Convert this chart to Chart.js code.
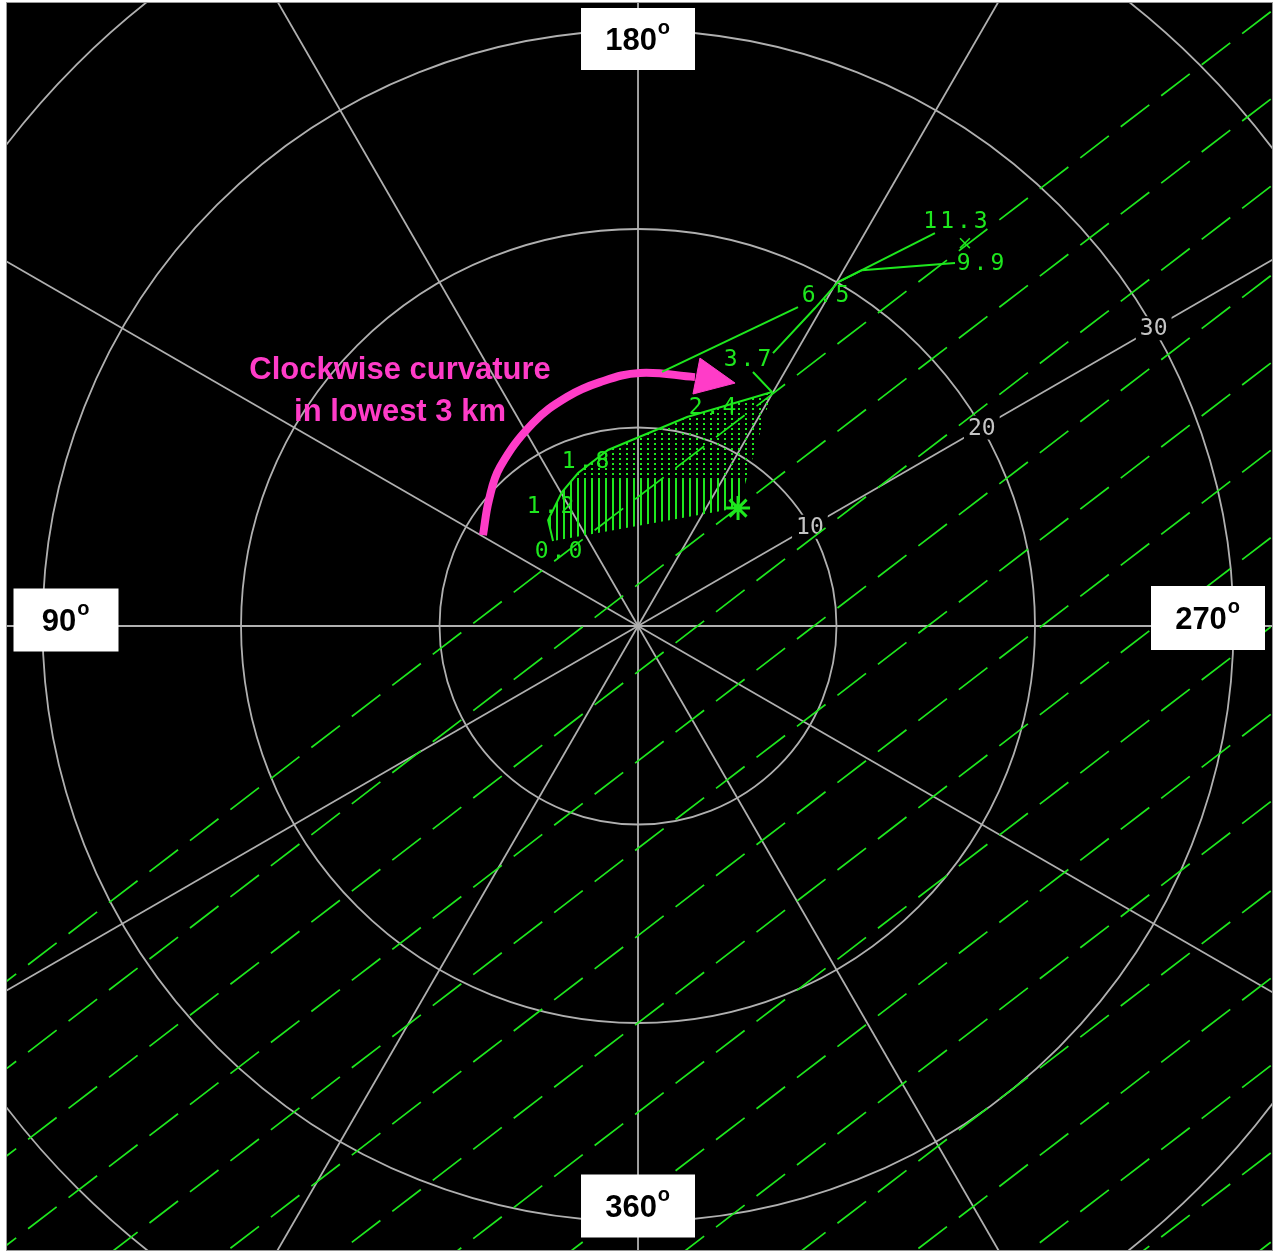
<!DOCTYPE html>
<html>
<head>
<meta charset="utf-8">
<script src="https://cdn.jsdelivr.net/npm/chart.js@4.4.1/dist/chart.umd.min.js"></script>
<style>
  html, body { margin: 0; padding: 0; background: #fff; }
  canvas { display: block; }
</style>
</head>
<body>
<canvas id="hodo" width="1279" height="1253"></canvas>
<script>
// knots, u to the right, v up (wind from 180 plots at the top)
const ringSpeeds = [10, 20, 30, 40];
const ringLabels = ["10", "20", "30"];
const labelAngle = 30;
const spokeAngles = [0, 30, 60, 90, 120, 150];

// 0-3 km part of the hodograph
const lowU = [-4.28, -4.53, -3.83, -3.02, -1.51, 2.47, 5.39, 6.75, 5.79];
const lowV = [4.28, 5.34, 6.75, 7.71, 8.87, 10.53, 11.39, 11.79, 12.80];
// upper part
const upU = [6.80, 8.92, 10.08, 11.28, 15.97];
const upV = [13.75, 16.02, 17.33, 17.93, 18.29];
const topU = [10.08, 14.96];
const topV = [17.33, 19.80];
const sideU = [1.21, 8.06];
const sideV = [12.80, 16.07];

const stormMotion = { u: 5.04, v: 5.94 };
const topMark = { u: 16.47, v: 19.29 };

const heightLabels = ["0.0", "1.2", "1.8", "2.4", "3.7", "6.5", "9.9", "11.3"];
const heightLabelU = [-4.03, -4.43, -2.67, 3.73, 5.49, 9.42, 17.23, 15.97];
const heightLabelV = [3.73, 5.99, 8.26, 10.98, 13.40, 16.62, 18.24, 20.35];

// parallel dashed lines: v where each crosses u = 0, common slope
const shearSlope = 0.767;
const shearOffsets = [6.5, 2.1, -2.3, -6.8, -11.2, -15.6, -20.0, -24.5, -28.9, -33.3, -37.8, -42.2, -46.6, -51.0, -55.5];

// pink annotation
const arcU = [-7.81, -7.51, -6.95, -5.29, -3.58, -1.91, 0.10, 2.87];
const arcV = [4.58, 6.35, 8.01, 10.23, 11.54, 12.29, 12.75, 12.54];
const headU = [3.12, 4.89, 2.77];
const headV = [13.50, 12.24, 11.69];
const noteLines = ["Clockwise curvature", "in lowest 3 km"];
const noteU = -11.99;
const noteV = [12.90, 10.78];

const dirLabels = ["180", "90", "270", "360"];

const GREEN = "#1ee81e";
const GRAY = "#b0b0b0";
const PINK = "#ff3cc8";
const hatchSplitV = 7.46; // hatching turns dotted above this
const HATCH_INDEX = shearOffsets.length;

const pts = (us, vs) => us.map((u, i) => ({ x: u, y: vs[i] }));

function hatchPattern(chart) {
    const split = Math.round(chart.scales.y.getPixelForValue(hatchSplitV));
    const c = document.createElement("canvas");
    c.width = 7;
    c.height = chart.height;
    const g = c.getContext("2d");
    g.fillStyle = GREEN;
    for (let yy = split % 5; yy < split; yy += 5) g.fillRect(3, yy, 2, 2);
    g.fillRect(3, split, 2, c.height - split);
    return chart.ctx.createPattern(c, "repeat");
}

const hodoGrid = {
    id: "hodoGrid",
    beforeDraw(chart) {
        const { ctx, chartArea: a } = chart;
        ctx.save();
        ctx.fillStyle = "#fff";
        ctx.fillRect(0, 0, chart.width, chart.height);
        ctx.fillStyle = "#000";
        ctx.fillRect(a.left, a.top, a.right - a.left, a.bottom - a.top);
        ctx.strokeStyle = "#999";
        ctx.lineWidth = 1;
        ctx.strokeRect(a.left - 0.5, a.top - 0.5, a.right - a.left + 1, a.bottom - a.top + 1);
        ctx.restore();
    },
    beforeDatasetsDraw(chart) {
        const { ctx, chartArea: a, scales: { x, y } } = chart;
        const cx = x.getPixelForValue(0);
        const cy = y.getPixelForValue(0);
        // hatch fill for the 0-3 km area
        const hatchLine = chart.getDatasetMeta(HATCH_INDEX).dataset;
        if (hatchLine) hatchLine.options.backgroundColor = hatchPattern(chart);
        ctx.save();
        ctx.beginPath();
        ctx.rect(a.left, a.top, a.right - a.left, a.bottom - a.top);
        ctx.clip();
        ctx.strokeStyle = GRAY;
        ctx.lineWidth = 1.8;
        ringSpeeds.forEach((s) => {
            const r = x.getPixelForValue(s) - cx;
            ctx.beginPath();
            ctx.arc(cx, cy, r, 0, Math.PI * 2);
            ctx.stroke();
        });
        spokeAngles.forEach((d) => {
            const t = (d * Math.PI) / 180;
            const u = 60 * Math.cos(t), v = 60 * Math.sin(t);
            ctx.beginPath();
            ctx.moveTo(x.getPixelForValue(-u), y.getPixelForValue(-v));
            ctx.lineTo(x.getPixelForValue(u), y.getPixelForValue(v));
            ctx.stroke();
        });
        // speed labels along the 30 degree spoke
        const t = (labelAngle * Math.PI) / 180;
        ctx.font = "23px 'DejaVu Sans Mono'";
        ctx.textAlign = "center";
        ctx.textBaseline = "middle";
        ringLabels.forEach((txt, i) => {
            const s = ringSpeeds[i];
            const px = x.getPixelForValue(s * Math.cos(t));
            const py = y.getPixelForValue(s * Math.sin(t));
            const w = ctx.measureText(txt).width + 8;
            ctx.fillStyle = "#000";
            ctx.fillRect(px - w / 2, py - 12, w, 24);
            ctx.fillStyle = "#c4c4c4";
            ctx.fillText(txt, px, py + 1);
        });
        ctx.restore();
    },
    afterDatasetsDraw(chart) {
        const { ctx, chartArea: a, scales: { x, y } } = chart;
        const cx = x.getPixelForValue(0);
        const cy = y.getPixelForValue(0);
        ctx.save();
        // height labels
        ctx.font = "23px 'DejaVu Sans Mono'";
        ctx.letterSpacing = "3px";
        ctx.textAlign = "center";
        ctx.textBaseline = "middle";
        ctx.fillStyle = GREEN;
        heightLabels.forEach((txt, i) => {
            ctx.fillText(txt, x.getPixelForValue(heightLabelU[i]) + 2, y.getPixelForValue(heightLabelV[i]));
        });
        ctx.letterSpacing = "0px";
        // pink note
        ctx.font = "bold 31px 'Liberation Sans', Arial, sans-serif";
        ctx.fillStyle = PINK;
        noteLines.forEach((txt, i) => {
            ctx.fillText(txt, x.getPixelForValue(noteU), y.getPixelForValue(noteV[i]));
        });
        // direction boxes
        const boxes = [
            { cx: cx, cy: a.top + 36, w: 114, h: 62 },
            { cx: a.left + 59, cy: cy - 6, w: 105, h: 63 },
            { cx: a.right - 64, cy: cy - 8, w: 114, h: 64 },
            { cx: cx, cy: a.bottom - 44, w: 114, h: 63 },
        ];
        boxes.forEach((b, i) => {
            ctx.fillStyle = "#fff";
            ctx.fillRect(b.cx - b.w / 2, b.cy - b.h / 2, b.w, b.h);
            ctx.fillStyle = "#000";
            ctx.font = "bold 31px 'Liberation Sans', Arial, sans-serif";
            const tw = ctx.measureText(dirLabels[i]).width;
            ctx.textAlign = "left";
            ctx.textBaseline = "alphabetic";
            const x0 = b.cx - (tw + 14) / 2;
            ctx.fillText(dirLabels[i], x0, b.cy + 11);
            ctx.font = "bold 20px 'Liberation Sans', Arial, sans-serif";
            ctx.fillText("o", x0 + tw + 1, b.cy - 5);
        });
        ctx.restore();
    },
};

const shearSets = shearOffsets.map((b) => ({
    data: [{ x: -45, y: b - 45 * shearSlope }, { x: 45, y: b + 45 * shearSlope }],
    borderColor: GREEN,
    borderWidth: 1.7,
    borderDash: [36, 15],
    pointRadius: 0,
    fill: false,
}));

const hatchSet = {
    data: [{ x: stormMotion.u, y: stormMotion.v }, ...pts(lowU.slice(0, 8), lowV.slice(0, 8)), { x: stormMotion.u, y: stormMotion.v }],
    borderWidth: 0,
    borderColor: "rgba(0,0,0,0)",
    backgroundColor: GREEN,
    pointRadius: 0,
    fill: "shape",
};

const lineSet = (us, vs, w) => ({
    data: pts(us, vs),
    borderColor: GREEN,
    borderWidth: w,
    pointRadius: 0,
    fill: false,
});

new Chart(document.getElementById("hodo"), {
    type: "line",
    data: {
        datasets: [
            ...shearSets,
            hatchSet,
            lineSet(lowU, lowV, 2),
            lineSet(upU, upV, 2),
            lineSet(topU, topV, 2),
            lineSet(sideU, sideV, 2),
            {
                data: [{ x: stormMotion.u, y: stormMotion.v }],
                pointStyle: "star",
                pointRadius: 12,
                borderColor: GREEN,
                borderWidth: 3,
                showLine: false,
            },
            {
                data: [{ x: topMark.u, y: topMark.v }],
                pointStyle: "crossRot",
                pointRadius: 7,
                borderColor: GREEN,
                borderWidth: 1.5,
                showLine: false,
            },
            {
                data: pts(arcU, arcV),
                borderColor: PINK,
                borderWidth: 8,
                tension: 0.4,
                pointRadius: 0,
                fill: false,
            },
            {
                data: [...pts(headU, headV), { x: headU[0], y: headV[0] }],
                borderColor: PINK,
                borderWidth: 1,
                backgroundColor: PINK,
                pointRadius: 0,
                fill: "shape",
            },
        ],
    },
    options: {
        responsive: false,
        animation: false,
        devicePixelRatio: 1,
        layout: { autoPadding: false, padding: { left: 7, right: 7, top: 3, bottom: 3 } },
        plugins: { legend: { display: false }, tooltip: { enabled: false } },
        scales: {
            x: { type: "linear", min: -31.79, max: 31.94, display: false },
            y: { type: "linear", min: -31.44, max: 31.39, display: false },
        },
    },
    plugins: [hodoGrid],
});
</script>
</body>
</html>
